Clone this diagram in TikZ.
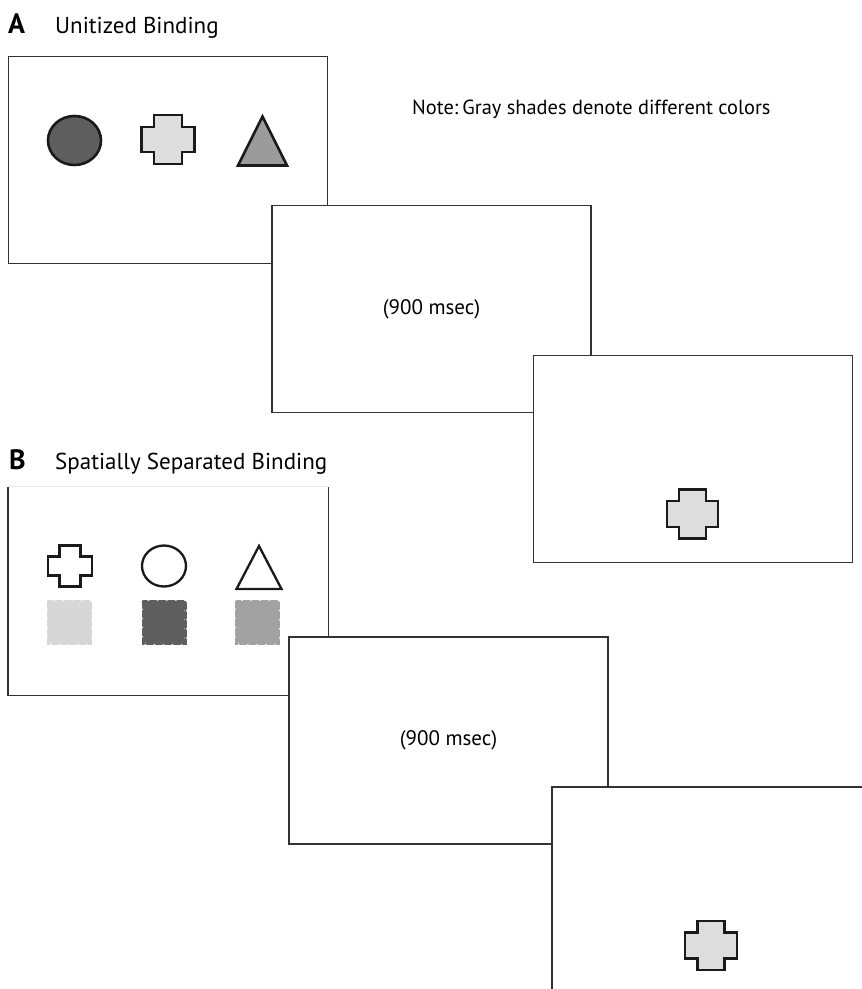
\documentclass[tikz,border=0pt]{standalone}
\usepackage{fontspec}
\setmainfont{PT Sans}
\definecolor{framegray}{HTML}{333333}
\definecolor{inkblack}{HTML}{1A1A1A}
\definecolor{darkfill}{HTML}{5E5E5E}
\definecolor{lightfill}{HTML}{DCDDDC}
\definecolor{midfill}{HTML}{9B9B9B}
\definecolor{swlight}{HTML}{D6D7D6}
\definecolor{swdark}{HTML}{5F5F5F}
\definecolor{swmid}{HTML}{A2A2A2}
\begin{document}
\begin{tikzpicture}[x=1pt,y=-1pt,
  frame/.style={rectangle, draw=framegray, line width=1.4pt, fill=white,
    minimum width=319pt, minimum height=207pt, inner sep=0pt,
    font=\fontsize{21}{24}\selectfont},
  letter/.style={anchor=base west, inner sep=0pt, font=\fontsize{28}{32}\selectfont\bfseries},
  paneltitle/.style={anchor=base west, inner sep=0pt, font=\fontsize{23}{28}\selectfont},
  shapeink/.style={draw=inkblack, line width=2.6pt, line join=miter},
  swatchedge/.style={line width=3pt, dash pattern=on 6.5pt off 2.6pt, line cap=round},
  pics/plus/.style args={#1/#2/#3/#4/#5}{code={
    \draw[shapeink, fill=#5] (-#3,-#2) -- (#3,-#2) -- (#3,-#4) -- (#1,-#4) -- (#1,#4)
      -- (#3,#4) -- (#3,#2) -- (-#3,#2) -- (-#3,#4) -- (-#1,#4) -- (-#1,-#4)
      -- (-#3,-#4) -- cycle;}},
  pics/swatch/.style={code={
    \fill[#1, rounded corners=3pt] (-20.5,-20.5) rectangle (20.5,20.5);
    \draw[#1, swatchedge] (-21,-21) rectangle (21,21);}}
]
\useasboundingbox (0,0) rectangle (862,989);
\clip (0,0) rectangle (862,989);

% ---------------- Panel A: unitized binding ----------------
\node[letter] (letterA) at (8,33) {A};
\node[paneltitle] (titleA) at (55,33) {Unitized Binding};

\node[frame] (A1) at (168,160) {};
\draw[shapeink, fill=darkfill] (74.5,140.5) ellipse [x radius=26.5, y radius=24.5];
\pic at (168,139.5) {plus=26.5/24.5/14/12.5/lightfill};
\draw[shapeink, fill=midfill] (262.5,116.5) -- (287,165.5) -- (238,165.5) -- cycle;

\node[anchor=base west, inner sep=0pt, font=\fontsize{20.4}{24}\selectfont]
  (note) at (412,114) {Note:\hspace{4pt}Gray shades denote different colors};

\node[frame] (A2) at (431.5,309) {(900 msec)};

\node[frame] (A3) at (693,459) {};
\pic at (692.5,514) {plus=25.5/24.5/13.5/13/lightfill};

% ---------------- Panel B: spatially separated binding ----------------
\node[letter] (letterB) at (9,469) {B};
\node[paneltitle] (titleB) at (55,469) {Spatially Separated Binding};

\node[frame, draw=none] (B1) at (168,591) {};
\draw[framegray, line width=1.4pt] (B1.north west) -- (B1.south west)
  -- (B1.south east) -- (B1.north east);
\draw[black!8, line width=1pt] (B1.north west) -- (B1.north east);
\pic at (70,566) {plus=22/20.5/10.5/9.5/white};
\draw[shapeink, line width=2.3pt] (164,566) ellipse [x radius=22, y radius=20.5];
\draw[shapeink, line width=2.3pt] (259,546) -- (281.5,589) -- (236.5,589) -- cycle;
\pic at (69.5,622.5) {swatch=swlight};
\pic at (164,622.5) {swatch=swdark};
\pic at (257.5,622.5) {swatch=swmid};

\node[frame] (B2) at (448.5,740.5) {(900 msec)};

\node[frame] (B3) at (711.5,890.5) {};
\pic at (711,945.5) {plus=26/24.5/13.5/13/lightfill};
\end{tikzpicture}
\end{document}
